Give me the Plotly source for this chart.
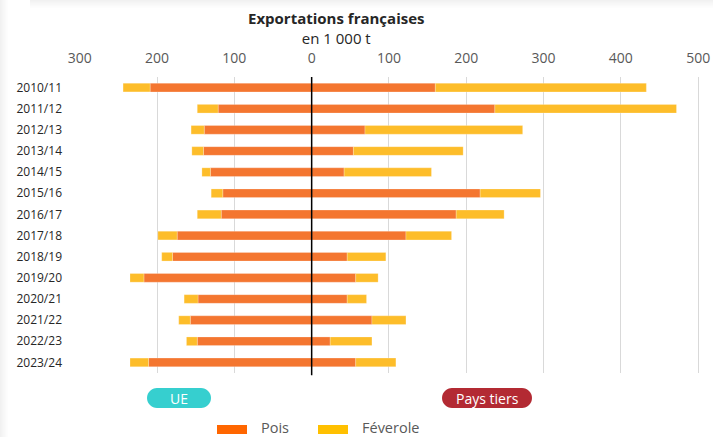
import plotly.graph_objects as go

categories = ["2010/11", "2011/12", "2012/13", "2013/14", "2014/15", "2015/16", "2016/17",
              "2017/18", "2018/19", "2019/20", "2020/21", "2021/22", "2022/23", "2023/24"]
ue_pois = [209, 121, 139, 140, 131, 115, 117, 174, 180, 217, 147, 157, 148, 211]
ue_fev = [35, 27, 17, 15, 11, 15, 31, 25, 14, 18, 18, 15, 14, 24]
pt_pois = [160, 237, 69, 54, 42, 218, 187, 122, 46, 57, 46, 78, 24, 57]
pt_fev = [273, 235, 204, 142, 113, 78, 62, 59, 50, 29, 25, 44, 54, 52]
tick_vals = [-300, -200, -100, 0, 100, 200, 300, 400, 500]
tick_text = ["300", "200", "100", "0", "100", "200", "300", "400", "500"]

C_POIS = "#F47630"
C_FEV = "#FDBD2A"
FONT = "Open Sans"

W, H = 713, 437
ML, MR, MT, MB = 79, 11, 77, 64
PW, PH = W - ML - MR, H - MT - MB


def px(x):
    return (x - ML) / PW


def py(y):
    return (H - MB - y) / PH


fig = go.Figure()
common = dict(orientation="h", width=0.41, hoverinfo="skip", showlegend=False,
              marker_line=dict(color="rgba(255,255,255,0.4)", width=0.6))
fig.add_trace(go.Bar(y=categories, x=[-v for v in ue_pois], marker_color=C_POIS, **common))
fig.add_trace(go.Bar(y=categories, x=[-v for v in ue_fev], marker_color=C_FEV, **common))
fig.add_trace(go.Bar(y=categories, x=pt_pois, marker_color=C_POIS, **common))
fig.add_trace(go.Bar(y=categories, x=pt_fev, marker_color=C_FEV, **common))

shapes = []
# zero line on top
shapes.append(dict(type="line", xref="x", yref="paper", x0=0, x1=0, y0=-0.008, y1=1.0,
                   line=dict(color="black", width=1.5), layer="above"))


def pill(x0, x1, y0, y1, color):
    r = (y1 - y0) / 2
    k = r * 0.55
    path = (f"M {px(x0 + r)} {py(y0)} L {px(x1 - r)} {py(y0)} "
            f"C {px(x1 - r + k)} {py(y0)} {px(x1)} {py(y0 + r - k)} {px(x1)} {py(y0 + r)} "
            f"C {px(x1)} {py(y0 + r + k)} {px(x1 - r + k)} {py(y1)} {px(x1 - r)} {py(y1)} "
            f"L {px(x0 + r)} {py(y1)} "
            f"C {px(x0 + r - k)} {py(y1)} {px(x0)} {py(y0 + r + k)} {px(x0)} {py(y0 + r)} "
            f"C {px(x0)} {py(y0 + r - k)} {px(x0 + r - k)} {py(y0)} {px(x0 + r)} {py(y0)} Z")
    return dict(type="path", xref="paper", yref="paper", path=path, fillcolor=color,
                line=dict(width=0), layer="above")


shapes.append(pill(147, 211, 388, 408, "#36CFCF"))
shapes.append(pill(442, 532, 388, 408, "#B32A33"))

# legend swatches
shapes.append(dict(type="rect", xref="paper", yref="paper", x0=px(217), x1=px(247),
                   y0=py(434), y1=py(425), fillcolor="#FF6600", line=dict(width=0)))
shapes.append(dict(type="rect", xref="paper", yref="paper", x0=px(318), x1=px(348),
                   y0=py(434), y1=py(425), fillcolor="#FFC000", line=dict(width=0)))

# card shadow (left and top)
for i in range(8):
    op = 0.10 * (1 - i / 8)
    shapes.append(dict(type="rect", xref="paper", yref="paper", x0=px(i), x1=px(i + 1),
                       y0=py(H), y1=py(0), fillcolor=f"rgba(120,120,120,{op:.3f})",
                       line=dict(width=0), layer="below"))
    shapes.append(dict(type="rect", xref="paper", yref="paper", x0=px(30), x1=px(W),
                       y0=py(i + 1), y1=py(i), fillcolor=f"rgba(120,120,120,{op:.3f})",
                       line=dict(width=0), layer="below"))

annotations = [
    dict(text="<b>Exportations françaises</b><br>en 1 000 t",
         x=px(336), y=py(28), xref="paper", yref="paper", align="center",
         showarrow=False, font=dict(family=FONT, size=15, color="#262626"),
         xanchor="center", yanchor="middle", borderpad=0),
    dict(text="UE", x=px(179), y=py(398), xref="paper", yref="paper", showarrow=False,
         font=dict(family=FONT, size=14, color="white"), xanchor="center", yanchor="middle"),
    dict(text="Pays tiers", x=px(487), y=py(398), xref="paper", yref="paper", showarrow=False,
         font=dict(family=FONT, size=14, color="white"), xanchor="center", yanchor="middle"),
    dict(text="Pois", x=px(260), y=py(427.5), xref="paper", yref="paper", showarrow=False,
         font=dict(family=FONT, size=14.5, color="#595959"), xanchor="left", yanchor="middle",
         borderpad=0),
    dict(text="Féverole", x=px(361), y=py(427.5), xref="paper", yref="paper", showarrow=False,
         font=dict(family=FONT, size=14.5, color="#595959"), xanchor="left", yanchor="middle",
         borderpad=0),
]

fig.update_layout(
    width=W, height=H, margin=dict(l=ML, r=MR, t=MT, b=MB, autoexpand=False),
    barmode="relative", paper_bgcolor="white", plot_bgcolor="white",
    shapes=shapes, annotations=annotations, showlegend=False,
    font=dict(family=FONT),
)
fig.update_xaxes(side="top", range=[-301, 505], tickvals=tick_vals, ticktext=tick_text,
                 showgrid=True, gridcolor="#D9D9D9", gridwidth=1.3, zeroline=False,
                 ticks="outside", ticklen=7, tickcolor="rgba(0,0,0,0)", automargin=False,
                 tickfont=dict(family=FONT, size=14, color="#595959"), showline=False,
                 fixedrange=True)
fig.update_yaxes(autorange="reversed", showgrid=False, zeroline=False, showline=False,
                 ticks="", ticklabelstandoff=16, automargin=False,
                 tickfont=dict(family=FONT, size=12, color="#262626"), fixedrange=True)

fig.write_html("out.html", config={"displayModeBar": False},
               post_script="document.body.style.margin='0';document.body.style.overflow='hidden';")
